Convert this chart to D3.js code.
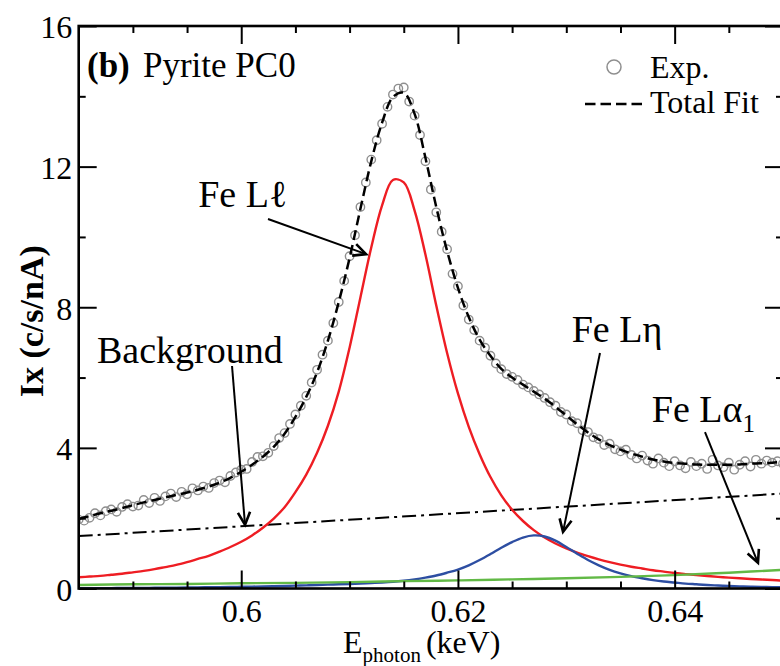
<!DOCTYPE html>
<html>
<head>
<meta charset="utf-8">
<script src="https://cdn.jsdelivr.net/npm/d3@7"></script>
<style>
  html, body { margin: 0; padding: 0; background: #fff; }
  svg { display: block; }
</style>
</head>
<body>
<svg id="chart" width="780" height="666"></svg>
<script>
const SERIF = "'Liberation Serif', 'DejaVu Serif', 'Times New Roman', Times, serif";

// ---- data (keV, counts/s/nA) ----
// fitted components sampled every 1 eV from 0.585 to 0.650 keV
const fitStart = 0.585, fitStep = 0.001;
const feLl = [0.32,0.34,0.36,0.39,0.42,0.46,0.50,0.55,0.61,0.67,0.75,0.84,0.93,1.05,1.18,1.33,1.51,1.73,1.99,2.31,
              2.74,3.24,3.86,4.63,5.60,6.85,8.28,9.70,10.90,11.62,11.55,10.75,9.50,8.05,6.70,5.55,4.60,3.82,3.17,2.65,
              2.24,1.92,1.66,1.45,1.28,1.14,1.02,0.92,0.83,0.75,0.68,0.62,0.57,0.52,0.48,0.44,0.41,0.38,0.355,0.33,
              0.31,0.29,0.27,0.255,0.24,0.225];
const feLeta = [0.010,0.010,0.010,0.012,0.014,0.016,0.018,0.020,0.022,0.025,0.028,0.031,0.035,0.039,0.043,0.048,0.053,0.059,0.066,0.073,
                0.081,0.090,0.10,0.11,0.12,0.13,0.14,0.155,0.17,0.19,0.22,0.26,0.31,0.37,0.45,0.54,0.66,0.81,0.98,1.16,
                1.32,1.45,1.51,1.48,1.36,1.18,0.99,0.81,0.66,0.53,0.43,0.35,0.29,0.24,0.20,0.17,0.14,0.12,0.10,0.085,
                0.07,0.06,0.05,0.045,0.04,0.035];
const totalFit = [1.98,2.06,2.14,2.21,2.29,2.37,2.45,2.52,2.59,2.66,2.73,2.81,2.90,3.01,3.15,3.32,3.52,3.75,4.03,4.40,
                  4.88,5.45,6.15,7.05,8.15,9.40,10.80,12.15,13.25,13.98,14.10,13.50,12.25,10.85,9.60,8.55,7.72,7.08,6.62,6.25,
                  6.00,5.80,5.60,5.40,5.17,4.92,4.67,4.44,4.24,4.08,3.95,3.84,3.75,3.67,3.61,3.57,3.55,3.53,3.52,3.52,
                  3.52,3.53,3.55,3.56,3.58,3.60];
// Fe Lα1 tail, sampled every 5 eV
const alphaStart = 0.585, alphaStep = 0.005;
const feLalpha = [0.10,0.12,0.13,0.15,0.16,0.18,0.21,0.23,0.26,0.29,0.33,0.38,0.45,0.53];
// linear background, end points
const bgEnergy = [0.585, 0.650];
const background = [1.49, 2.70];
// measured spectrum, 0.5 eV steps
const expStart = 0.585, expStep = 0.0005;
const expIx = [1.96,1.93,2.01,2.14,2.08,2.20,2.25,2.18,2.32,2.40,2.33,2.36,2.52,2.43,2.58,2.49,2.62,2.70,2.60,2.75,
               2.68,2.85,2.79,2.90,2.86,3.00,3.07,3.02,3.20,3.30,3.38,3.40,3.60,3.74,3.76,3.86,4.05,4.28,4.42,4.68,
               4.95,5.20,5.48,5.86,6.22,6.65,7.05,7.55,8.15,8.75,9.45,10.05,10.85,11.55,12.20,12.75,13.22,13.70,14.05,14.22,
               14.25,13.85,13.45,12.90,12.15,11.35,10.70,10.15,9.65,8.95,8.60,8.05,7.65,7.35,7.05,6.85,6.62,6.40,6.24,6.10,
               6.02,5.93,5.80,5.72,5.62,5.52,5.42,5.30,5.20,5.02,4.95,4.76,4.70,4.50,4.45,4.30,4.25,4.08,4.12,3.96,
               3.90,3.95,3.80,3.70,3.78,3.64,3.55,3.70,3.58,3.48,3.62,3.50,3.42,3.60,3.48,3.55,3.40,3.66,3.50,3.45,
               3.58,3.38,3.52,3.62,3.47,3.66,3.55,3.64,3.58,3.62,3.55];
// axis ticks
const xMajor = [0.60, 0.62, 0.64];
const xMinor = [0.590, 0.595, 0.605, 0.610, 0.615, 0.625, 0.630, 0.635, 0.645, 0.650];
const xTickLabels = ["0.6", "0.62", "0.64"];
const yMajor = [0, 4, 8, 12, 16];
const yMinor = [2, 6, 10, 14];
const yTickLabels = ["0", "4", "8", "12", "16"];

// ---- layout ----
const svg = d3.select("#chart").attr("font-family", SERIF);
const plot = { left: 78.7, right: 783, top: 26, bottom: 588.5 };
const x = d3.scaleLinear().domain([0.585, 0.65]).range([plot.left, plot.right]);
const y = d3.scaleLinear().domain([0, 16]).range([plot.bottom, plot.top]);

const fitE = feLl.map((_, i) => fitStart + i * fitStep);
const alphaE = feLalpha.map((_, i) => alphaStart + i * alphaStep);
const expE = expIx.map((_, i) => expStart + i * expStep);

svg.append("defs").append("clipPath").attr("id", "plotClip")
  .append("rect").attr("x", plot.left).attr("y", plot.top)
  .attr("width", plot.right - plot.left).attr("height", plot.bottom - plot.top);

const g = svg.append("g").attr("clip-path", "url(#plotClip)");

const line = (xs, ys, curve) => d3.line()
  .x((d, i) => x(xs[i])).y(d => y(d)).curve(curve || d3.curveCatmullRom.alpha(0.5))(ys);

// background (dash-dot)
g.append("path").attr("d", line(bgEnergy, background, d3.curveLinear))
  .attr("fill", "none").attr("stroke", "#000").attr("stroke-width", 2)
  .attr("stroke-dasharray", "14,5,3,5");
// components
g.append("path").attr("d", line(fitE, feLl))
  .attr("fill", "none").attr("stroke", "#ee1d23").attr("stroke-width", 2.4);
g.append("path").attr("d", line(fitE, feLeta))
  .attr("fill", "none").attr("stroke", "#2d4ea2").attr("stroke-width", 2.4);
g.append("path").attr("d", line(alphaE, feLalpha))
  .attr("fill", "none").attr("stroke", "#62b946").attr("stroke-width", 2.4);
// measured points
g.selectAll("circle.exp").data(expIx).join("circle").attr("class", "exp")
  .attr("cx", (d, i) => x(expE[i])).attr("cy", d => y(d)).attr("r", 4.2)
  .attr("fill", "none").attr("stroke", "#8f8f8f").attr("stroke-width", 1.4);
// total fit (dashed)
g.append("path").attr("d", line(fitE, totalFit))
  .attr("fill", "none").attr("stroke", "#000").attr("stroke-width", 2.5)
  .attr("stroke-dasharray", "10,5");

// ---- axes (ticks point inward on all four sides) ----
const major = 18, minor = 7;
function ticks(axisFn, scale, vals, size, pos, labels, pad) {
  const a = axisFn(scale).tickValues(vals).tickSizeInner(-size).tickSizeOuter(0).tickPadding(pad || 0);
  a.tickFormat(labels ? (d, i) => labels[i] : () => "");
  const sel = svg.append("g").attr("transform", pos).call(a);
  sel.attr("font-family", SERIF).attr("font-size", 32);
  sel.select(".domain").remove();
  sel.selectAll("line").attr("stroke", "#000").attr("stroke-width", 2);
  sel.selectAll("text").attr("fill", "#000");
  return sel;
}
ticks(d3.axisBottom, x, xMajor, major, `translate(0,${plot.bottom})`, xTickLabels, 11);
ticks(d3.axisBottom, x, xMinor, minor, `translate(0,${plot.bottom})`);
ticks(d3.axisTop, x, xMajor, major, `translate(0,${plot.top})`);
ticks(d3.axisTop, x, xMinor, minor, `translate(0,${plot.top})`);
const left = ticks(d3.axisLeft, y, yMajor, major, `translate(${plot.left},0)`, yTickLabels, 6.5);
left.selectAll("text").attr("dy", "0.37em");
ticks(d3.axisLeft, y, yMinor, minor, `translate(${plot.left},0)`);
ticks(d3.axisRight, y, yMajor, major, `translate(${plot.right},0)`);
ticks(d3.axisRight, y, yMinor, minor, `translate(${plot.right},0)`);

svg.append("rect").attr("x", plot.left).attr("y", plot.top)
  .attr("width", plot.right - plot.left).attr("height", plot.bottom - plot.top)
  .attr("fill", "none").attr("stroke", "#000").attr("stroke-width", 2.6);

// axis titles
svg.append("text").attr("transform", `translate(43,${(plot.top + plot.bottom) / 2 + 14}) rotate(-90)`)
  .attr("text-anchor", "middle").attr("font-size", 34).attr("font-weight", "bold").text("Ix (c/s/nA)");
const xt = svg.append("text").attr("x", 343).attr("y", 653).attr("font-size", 32);
xt.append("tspan").text("E");
xt.append("tspan").attr("font-size", 21).attr("dy", 9).text("photon");
xt.append("tspan").attr("dy", -9).attr("dx", 5).text("(keV)");

// panel title
svg.append("text").attr("x", 87).attr("y", 77).attr("font-size", 35).attr("font-weight", "bold").text("(b)");
svg.append("text").attr("x", 143).attr("y", 77).attr("font-size", 35).text("Pyrite PC0");

// legend
svg.append("circle").attr("cx", 614).attr("cy", 67).attr("r", 7)
  .attr("fill", "none").attr("stroke", "#8f8f8f").attr("stroke-width", 1.5);
svg.append("text").attr("x", 650).attr("y", 78).attr("font-size", 32).text("Exp.");
svg.append("line").attr("x1", 585).attr("x2", 644).attr("y1", 104).attr("y2", 104)
  .attr("stroke", "#000").attr("stroke-width", 2.5).attr("stroke-dasharray", "10.5,5");
svg.append("text").attr("x", 650).attr("y", 113).attr("font-size", 32).text("Total Fit");

// peak labels with arrows (placed in data coordinates)
function arrow(e1, v1, e2, v2) {
  const x1 = x(e1), y1 = y(v1), x2 = x(e2), y2 = y(v2);
  const ang = Math.atan2(y2 - y1, x2 - x1), len = 14, spread = 0.45;
  svg.append("line").attr("x1", x1).attr("y1", y1).attr("x2", x2).attr("y2", y2)
    .attr("stroke", "#000").attr("stroke-width", 2);
  const p = [
    [x2 - len * Math.cos(ang - spread), y2 - len * Math.sin(ang - spread)],
    [x2, y2],
    [x2 - len * Math.cos(ang + spread), y2 - len * Math.sin(ang + spread)]
  ];
  svg.append("path").attr("d", d3.line()(p)).attr("fill", "none")
    .attr("stroke", "#000").attr("stroke-width", 2.6).attr("stroke-linejoin", "miter");
}
function label(e, v, parts) {
  const t = svg.append("text").attr("x", x(e)).attr("y", y(v)).attr("font-size", 38);
  parts.forEach(p => {
    const s = t.append("tspan").text(p.text);
    if (p.sub) s.attr("font-size", 25).attr("dy", 10);
  });
}
label(0.59603, 10.85, [{ text: "Fe L\u2113" }]);
arrow(0.60247, 10.51, 0.61152, 9.51);
label(0.58669, 6.415, [{ text: "Background" }]);
arrow(0.59915, 6.33, 0.60035, 1.81);
label(0.6305, 7.02, [{ text: "Fe L\u03b7" }]);
arrow(0.63311, 6.70, 0.62970, 1.61);
label(0.63789, 4.745, [{ text: "Fe L\u03b1" }, { text: "1", sub: true }]);
arrow(0.64280, 4.45, 0.64769, 0.73);
</script>
</body>
</html>
